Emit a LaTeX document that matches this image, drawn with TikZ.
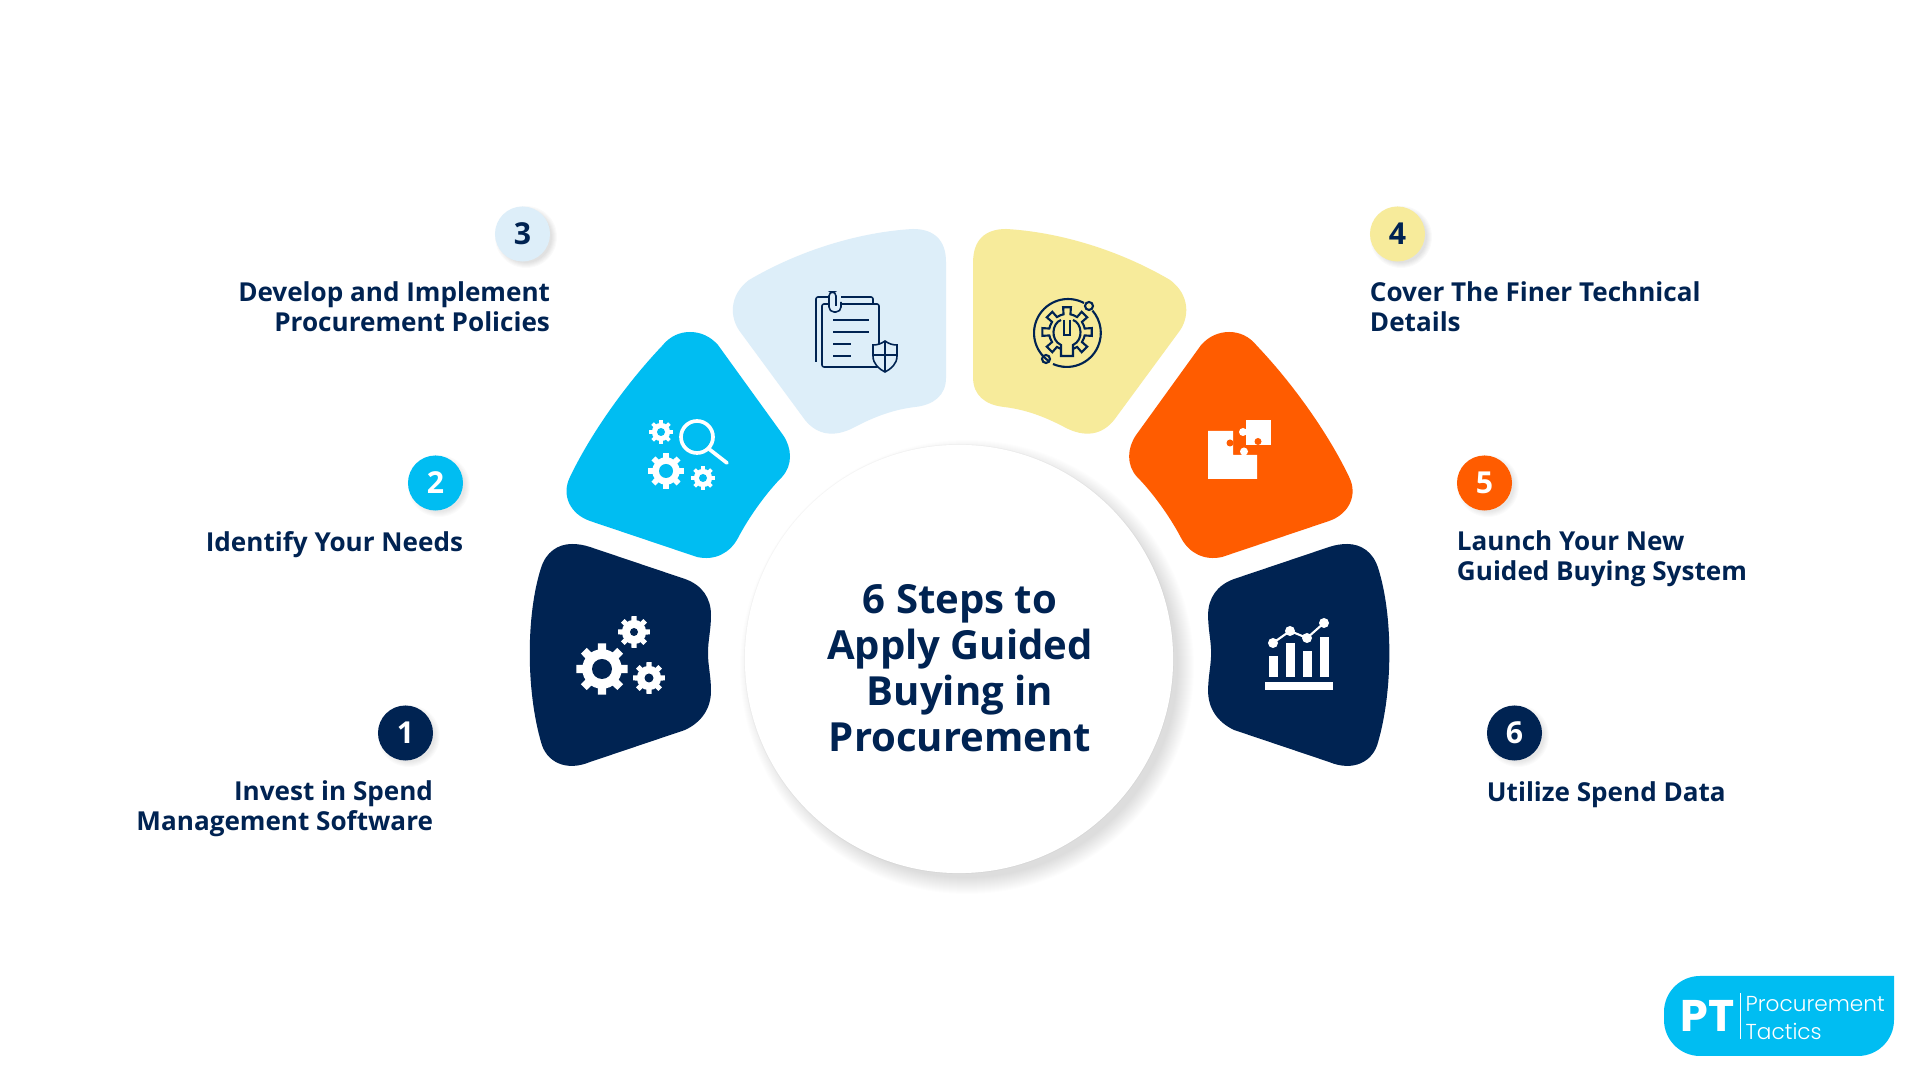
\documentclass[tikz,border=0pt]{standalone}
\usepackage{fontspec}
\setmainfont{Open Sans}
\newfontfamily\logobold{Poppins}
\newfontfamily\logolight{Poppins Light}
\usepackage{xcolor}
\usepackage{tikz}
\usetikzlibrary{positioning,calc}
\definecolor{navyblue}{HTML}{002352}
\definecolor{skyblue}{HTML}{00BDF2}
\definecolor{paleblue}{HTML}{DDEEF9}
\definecolor{paleyellow}{HTML}{F7EB9B}
\definecolor{hotorange}{HTML}{FF5C00}
% petal outlines, left half
\newcommand{\petalone}{(572,544) .. controls (578,544) and (584,545) .. (590,547)
    -- (685,579) .. controls (702,585) and (711,598) .. (711,615)
    .. controls (711,630) and (708,640) .. (708,653)
    .. controls (708,666) and (711,676) .. (711,691)
    .. controls (711,708) and (702,722) .. (685,730)
    -- (590,762) .. controls (566,772) and (546,762) .. (541,742)
    .. controls (526,690) and (526,615) .. (541,568)
    .. controls (546,552) and (558,544) .. (572,544) -- cycle}
\newcommand{\petaltwo}{(690,332) .. controls (700,332) and (710,336) .. (718,345)
    -- (783,435) .. controls (792,448) and (793,465) .. (782,477)
    .. controls (768,491) and (750,515) .. (738,538)
    .. controls (730,553) and (715,561) .. (697,557)
    -- (590,521) .. controls (570,514) and (561,495) .. (570,477)
    .. controls (590,435) and (625,385) .. (662,346)
    .. controls (670,336) and (680,332) .. (690,332) -- cycle}
\newcommand{\petalthree}{(913,229) .. controls (934,229) and (946,240) .. (946,262)
    -- (946,378) .. controls (946,395) and (934,405) .. (915,407)
    .. controls (890,410) and (870,419) .. (853,428)
    .. controls (835,437) and (818,436) .. (805,420)
    -- (741,333) .. controls (729,318) and (729,295) .. (749,280)
    .. controls (800,250) and (860,232) .. (913,229) -- cycle}
% gear: x, y, outer radius, hole radius, hole colour
\newcommand{\gearicon}[5]{
    \fill[white] (#1,#2) circle ({#3*0.76});
    \foreach \a in {0,45,...,315}
        \fill[white] ($(#1,#2)+(\a-13:#3*0.7)$) -- ($(#1,#2)+(\a-9:#3)$) -- ($(#1,#2)+(\a+9:#3)$) -- ($(#1,#2)+(\a+13:#3*0.7)$) -- cycle;
    \fill[#5] (#1,#2) circle (#4);
}
% soft shadow: x, y, radius, spread, opacity
\newcommand{\softshadow}[5]{
    \foreach \k in {1,...,#4}
        \fill[black, opacity=#5] (#1,#2) circle ({#3+\k});
}
\begin{document}
\begin{tikzpicture}[
    x=0.01cm, y=-0.01cm,
    numdot/.style={circle, minimum size=0.55cm, inner sep=0pt, text=navyblue,
                   font=\fontsize{8.6}{10}\selectfont\bfseries},
    steptext/.style={inner sep=0pt, text=navyblue, execute at begin node={\strut},
                     font=\fontsize{7.42}{8.55}\selectfont\bfseries},
    stepleft/.style={steptext, align=right, below left=0.465cm and 0pt of #1.east},
    stepright/.style={steptext, align=left, below right=0.465cm and 0pt of #1.west},
    iconline/.style={draw=navyblue, line width=0.45pt},
]
    \useasboundingbox (0,0) rectangle (1920,1080);
    \fill[white] (0,0) rectangle (1920,1080);

    % Petals
    \fill[navyblue] \petalone;
    \fill[skyblue] \petaltwo;
    \fill[paleblue] \petalthree;
    \begin{scope}[xshift=19.18cm, xscale=-1]
        \fill[navyblue] \petalone;
        \fill[hotorange] \petaltwo;
        \fill[paleyellow] \petalthree;
    \end{scope}

    % Centre circle
    \softshadow{967}{667}{210}{17}{0.008}
    \fill[black, opacity=0.025] (959,659) circle (215);
    \node[circle, fill=white, minimum size=4.28cm, inner sep=0pt] (disc) at (959,659) {};
    \node[align=center, inner sep=0pt, text=navyblue,
          font=\fontsize{11.4}{13.1}\selectfont\bfseries] (title) at (960,668)
        {6 Steps to\\Apply Guided\\Buying in\\Procurement};

    % Numbers
    \softshadow{409}{736}{25}{6}{0.014}
    \softshadow{439}{486}{25}{6}{0.014}
    \softshadow{526}{237}{25}{6}{0.02}
    \softshadow{1401}{237}{25}{6}{0.02}
    \softshadow{1488}{486}{25}{6}{0.014}
    \softshadow{1518}{736}{25}{6}{0.014}
    \node[numdot, fill=navyblue, text=white] (n1) at (405.5,733) {1};
    \node[numdot, fill=skyblue, text=white]  (n2) at (435.5,483) {2};
    \node[numdot, fill=paleblue]             (n3) at (522.5,234) {3};
    \node[numdot, fill=paleyellow]           (n4) at (1397.5,234) {4};
    \node[numdot, fill=hotorange, text=white] (n5) at (1484.5,483) {5};
    \node[numdot, fill=navyblue, text=white] (n6) at (1514.5,733) {6};

    % Labels
    \node[stepleft=n1] (t1) {Invest in Spend\\Management Software};
    \node[stepleft=n2] (t2) {Identify Your Needs};
    \node[stepleft=n3] (t3) {Develop and Implement\\Procurement Policies};
    \node[stepright=n4] (t4) {Cover The Finer Technical\\Details};
    \node[stepright=n5] (t5) {Launch Your New\\Guided Buying System};
    \node[stepright=n6] (t6) {Utilize Spend Data};

    % Icon 1
    \gearicon{602}{669}{26}{10}{navyblue}
    \gearicon{634}{632}{16}{4}{navyblue}
    \gearicon{649}{678}{16}{4.5}{navyblue}

    % Icon 2
    \gearicon{661}{432}{12}{4}{skyblue}
    \gearicon{666}{471}{18}{7}{skyblue}
    \gearicon{703}{478}{12}{4}{skyblue}
    \draw[white, line width=1.05pt] (697,437) circle (16);
    \draw[white, line width=1.05pt, line cap=round] (709,449) -- (727,463);

    % Icon 3
    \draw[iconline, rounded corners=0.02cm] (816,362) -- (816,297) -- (873,297) -- (873,304);
    \draw[iconline, rounded corners=0.02cm] (822,304) rectangle (879,367);
    \fill[paleblue] (829,292) rectangle (841,312);
    \draw[iconline, rounded corners=0.05cm] (829,298) -- (829,312) -- (841,312) -- (841,302);
    \draw[iconline, rounded corners=0.04cm] (829,302) -- (829,292) -- (836,292) -- (836,306);
    \foreach \ly/\lx in {320/869, 332/869, 344/851, 356/851}
        \draw[iconline] (833,\ly) -- (\lx,\ly);
    \filldraw[iconline, fill=paleblue] (885,341) .. controls (889,344) and (893,345) .. (897,345)
        -- (897,356) .. controls (897,364) and (891,369) .. (885,372)
        .. controls (879,369) and (873,364) .. (873,356) -- (873,345)
        .. controls (877,345) and (881,344) .. (885,341) -- cycle;
    \draw[iconline] (885,341) -- (885,372);
    \draw[iconline] (873,355) -- (897,355);

    % Icon 4
    \draw[iconline, line width=0.6pt] (1084,303) arc[start angle=-62, end angle=-235, radius=34];
    \draw[iconline, line width=0.6pt] (1053,364) arc[start angle=114, end angle=-41, radius=34];
    \draw[iconline, line width=0.6pt] (1089,306) circle (4);
    \draw[iconline, line width=0.6pt] (1046,359) circle (4);
    \foreach \a in {0,45,...,315}
        \draw[iconline, line width=0.6pt] ($(1067,332)+(\a-22.5:18)$) -- ($(1067,332)+(\a-11:18)$)
            -- ($(1067,332)+(\a-9:25)$) -- ($(1067,332)+(\a+9:25)$)
            -- ($(1067,332)+(\a+11:18)$) -- ($(1067,332)+(\a+22.5:18)$);
    \fill[paleyellow] (1061,346) rectangle (1073,362);
    \draw[iconline, line width=0.6pt] (1061,320) .. controls (1052,323) and (1050,340) .. (1061,345)
        -- (1061,356) -- (1073,356) -- (1073,345)
        .. controls (1084,340) and (1082,323) .. (1073,320);
    \draw[iconline, line width=0.6pt] (1064,320) -- (1064,335) -- (1070,335) -- (1070,320);

    % Icon 5
    \fill[white] (1208,431) -- (1233,431) -- (1233,455) -- (1257,455) -- (1257,479) -- (1208,479) -- cycle;
    \fill[white] (1246,420) rectangle (1271,445);
    \fill[hotorange] (1230,443) circle (3.5);
    \fill[white] (1244,451.5) circle (4);
    \fill[white] (1243,432) circle (4);
    \fill[hotorange] (1258,441.5) circle (3.5);

    % Icon 6
    \fill[white] (1265,682) rectangle (1333,690);
    \foreach \bx/\by in {1269/656, 1286/643, 1303/651, 1320/637}
        \fill[white] (\bx,\by) rectangle (\bx+9,677);
    \draw[white, line width=0.6pt] (1273,643) -- (1290,631) -- (1307,638) -- (1324,623);
    \foreach \dx/\dy in {1273/643, 1290/631, 1307/638, 1324/623}
        \fill[white] (\dx,\dy) circle (5);

    % Logo
    \fill[skyblue] (1894,976) [rounded corners=0.36cm] -- (1894,1056) -- (1664,1056) -- (1664,976) [sharp corners] -- cycle;
    \node[text=white, inner sep=0pt, anchor=base west, font=\logobold\bfseries\fontsize{12.6}{14}\selectfont] (logopt) at (1680,1032) {PT};
    \draw[white, line width=0.2pt] (1740,993) -- (1740,1039);
    \node[text=white, inner sep=0pt, anchor=west, align=left, font=\logolight\fontsize{6.15}{8}\selectfont] (logoname) at (1745,1018) {Procurement\\Tactics};
\end{tikzpicture}
\end{document}
